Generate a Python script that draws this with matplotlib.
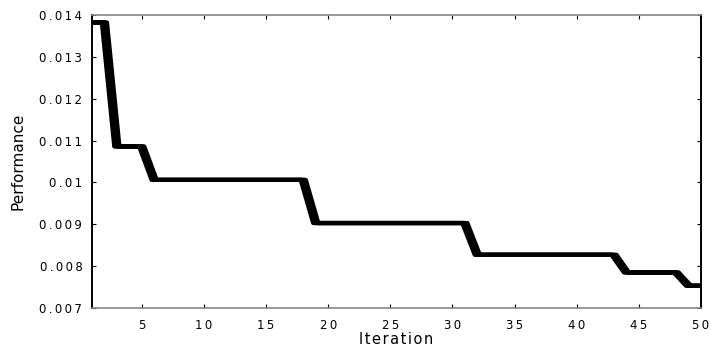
import matplotlib
matplotlib.use("Agg")
import matplotlib.pyplot as plt
from matplotlib.transforms import offset_copy

iterations = list(range(1, 51))
performance = ([0.01382] * 2 + [0.01086] * 3 + [0.01006] * 13 + [0.00903] * 13
               + [0.00827] * 12 + [0.00785] * 5 + [0.00753] * 2)
x_ticks = [5, 10, 15, 20, 25, 30, 35, 40, 45, 50]
y_ticks = [0.007, 0.008, 0.009, 0.01, 0.011, 0.012, 0.013, 0.014]
y_tick_labels = ["0.007", "0.008", "0.009", "0.01", "0.011", "0.012", "0.013", "0.014"]


def spaced(s, sep="\u2009"):
    return sep.join(s)


fig = plt.figure(figsize=(7.11, 3.46), dpi=100)
ax = fig.add_axes([92 / 711, 1 - 308 / 346, (701 - 92) / 711, (308 - 15) / 346])
# wide, flat brush: the same line drawn with small horizontal offsets
for dx in (-2.6, -1.3, 0.0, 1.3, 2.6):
    tr = offset_copy(ax.transData, fig=fig, x=dx, y=0, units="dots")
    ax.plot(iterations, performance, color="black", linewidth=3.0,
            solid_joinstyle="round", solid_capstyle="butt", transform=tr)
ax.set_xlim(1, 50)
ax.set_ylim(0.007, 0.014)
ax.set_xticks(x_ticks)
ax.set_xticklabels([spaced(str(v)) for v in x_ticks])
ax.set_yticks(y_ticks)
ax.set_yticklabels([spaced(s) for s in y_tick_labels])
ax.tick_params(direction="in", length=3, width=0.8, top=True, right=True,
               labelsize=8.5, colors="black", pad=7)
ax.tick_params(axis="x", pad=8)
for s in ["top", "bottom"]:
    ax.spines[s].set_color("#888888")
    ax.spines[s].set_linewidth(1.2)
for s in ["left", "right"]:
    ax.spines[s].set_color("black")
    ax.spines[s].set_linewidth(1.4)
ax.set_xlabel(spaced("Iteration", "\u200a"), fontsize=10.5, labelpad=0)
ax.set_ylabel("Performance", fontsize=11, labelpad=10)
fig.savefig("out.png", dpi=100)
